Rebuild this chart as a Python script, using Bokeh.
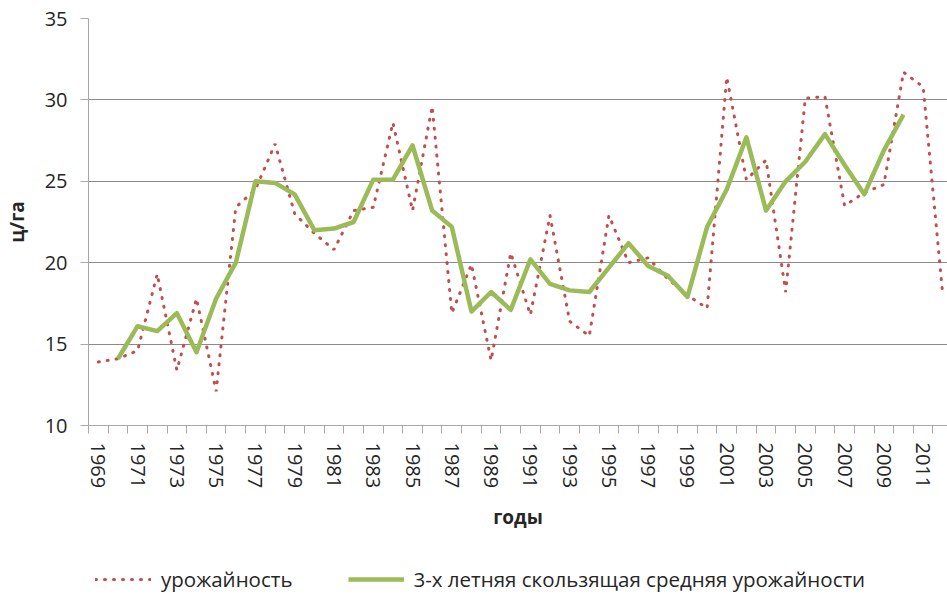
from bokeh.plotting import figure
from bokeh.layouts import column
from bokeh.models import Range1d, FixedTicker, Legend, LegendItem
from bokeh.embed import file_html
from bokeh.resources import INLINE

years = list(range(1969, 2013))
yield_values = [13.9, 14.1, 14.6, 19.3, 13.4, 17.8, 12.1, 23.4, 24.5, 27.3,
                23.0, 21.8, 20.8, 23.2, 23.4, 28.6, 23.2, 29.6, 16.9, 19.9,
                14.0, 20.6, 16.8, 22.9, 16.4, 15.5, 22.9, 20.0, 20.3, 19.0,
                18.0, 17.2, 31.4, 25.1, 26.3, 18.2, 30.1, 30.2, 23.5, 24.3,
                24.8, 31.7, 30.8, 18.0]
ma_years = list(range(1970, 2011))
ma_values = [14.1, 16.1, 15.8, 16.9, 14.5, 17.8, 20.0, 25.0, 24.9, 24.2,
             22.0, 22.1, 22.5, 25.1, 25.1, 27.2, 23.2, 22.2, 17.0, 18.2,
             17.1, 20.2, 18.7, 18.3, 18.2, 19.7, 21.2, 19.8, 19.2, 17.9,
             22.2, 24.5, 27.7, 23.2, 25.0, 26.2, 27.9, 26.0, 24.2, 26.9, 29.1]
y_ticks = [10, 15, 20, 25, 30, 35]
x_label_years = list(range(1969, 2013, 2))
legend_labels = ["урожайность", "3-х летняя скользящая средняя урожайности"]
x_title = "годы"
y_title = "ц/га"

FONT = "Open Sans"
TXT = "#262626"
GRID = "#8a8a8a"
AXIS = "#a8a8a8"
RED = "#C0504D"
GREEN = "#9BBB59"

p = figure(frame_width=859, frame_height=407, output_backend="svg", toolbar_location=None,
           x_range=Range1d(1968.5, 2012.24), y_range=Range1d(10, 35),
           min_border_left=88, min_border_right=0, min_border_top=18,
           min_border_bottom=0)
p.outline_line_color = None
p.background_fill_color = "white"
p.border_fill_color = "white"

p.xgrid.visible = False
p.ygrid.ticker = FixedTicker(ticks=y_ticks)
p.ygrid.grid_line_color = GRID
p.ygrid.grid_line_width = 1

xa = p.xaxis[0]
xa.ticker = FixedTicker(ticks=x_label_years,
                        minor_ticks=[y - 0.5 for y in years] + [years[-1] + 0.5])
xa.major_tick_out = 0
xa.major_tick_in = 0
xa.minor_tick_out = 8
xa.minor_tick_in = 0
xa.minor_tick_line_color = AXIS
xa.axis_line_color = AXIS
xa.major_label_orientation = "vertical"
xa.major_label_text_font = FONT
xa.major_label_text_font_size = "20px"
xa.major_label_text_color = TXT
xa.major_label_standoff = 9
xa.axis_label = x_title
xa.axis_label_text_font = FONT
xa.axis_label_text_font_style = "bold"
xa.axis_label_text_font_size = "19px"
xa.axis_label_text_color = TXT
xa.axis_label_standoff = 13

ya = p.yaxis[0]
ya.ticker = FixedTicker(ticks=y_ticks)
ya.major_tick_out = 8
ya.major_tick_in = 0
ya.minor_tick_out = 0
ya.minor_tick_in = 0
ya.major_tick_line_color = AXIS
ya.axis_line_color = AXIS
ya.major_label_text_font = FONT
ya.major_label_text_font_size = "20px"
ya.major_label_text_color = TXT
ya.major_label_standoff = 13
ya.axis_label = y_title
ya.axis_label_text_font = FONT
ya.axis_label_text_font_style = "bold"
ya.axis_label_text_font_size = "19px"
ya.axis_label_text_color = TXT
ya.axis_label_standoff = 12

p.line(years, yield_values, line_color=RED, line_width=3,
       line_dash="1 8", line_cap="round")
p.line(ma_years, ma_values, line_color=GREEN, line_width=4.5,
       line_join="round")

# legend strip below the chart (same series; its own ranges keep the lines out of view)
q = figure(frame_width=947, frame_height=64, output_backend="svg", toolbar_location=None,
           x_range=Range1d(0, 1), y_range=Range1d(0, 1),
           x_axis_type=None, y_axis_type=None,
           min_border_left=0, min_border_right=0, min_border_top=0, min_border_bottom=0)
q.outline_line_color = None
q.grid.visible = False
q.border_fill_color = "white"
l1 = q.line(years, yield_values, line_color=RED, line_width=3,
            line_dash="1 8", line_cap="round")
l2 = q.line(ma_years, ma_values, line_color=GREEN, line_width=4.5)

legend = Legend(items=[LegendItem(label=legend_labels[0], renderers=[l1]),
                       LegendItem(label=legend_labels[1], renderers=[l2])],
                orientation="horizontal", location=(95, 4))
legend.label_text_font = FONT
legend.label_text_font_size = "20.5px"
legend.label_text_color = TXT
legend.glyph_width = 56
legend.label_standoff = 10
legend.spacing = 55
legend.border_line_color = None
legend.background_fill_alpha = 0
legend.margin = 0
legend.padding = 2
q.add_layout(legend, "center")

layout = column(p, q, spacing=0)
open("out.html", "w").write(file_html(layout, INLINE))
